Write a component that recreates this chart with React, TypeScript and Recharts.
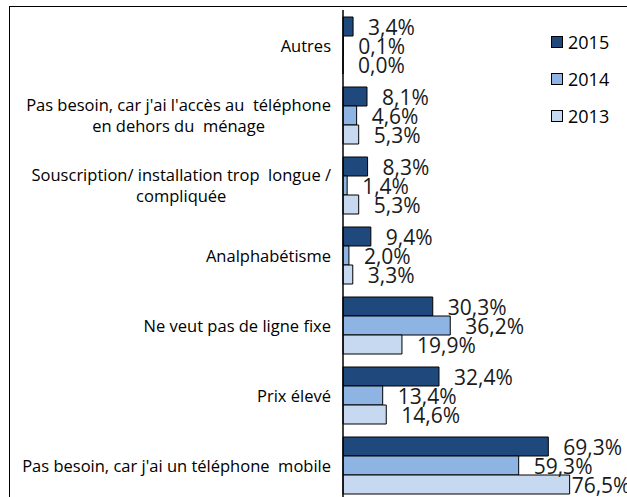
import React from 'react'
import { BarChart, Bar, XAxis, YAxis, LabelList } from 'recharts'

const categories = [
  'Autres',
  "Pas besoin, car j'ai l'accès au  téléphone\nen dehors du  ménage",
  'Souscription/ installation trop  longue /\ncompliquée',
  'Analphabétisme',
  'Ne veut pas de ligne fixe',
  'Prix élevé',
  "Pas besoin, car j'ai un téléphone  mobile",
]
const values2015 = [3.4, 8.1, 8.3, 9.4, 30.3, 32.4, 69.3]
const values2014 = [0.1, 4.6, 1.4, 2.0, 36.2, 13.4, 59.3]
const values2013 = [0.0, 5.3, 5.3, 3.3, 19.9, 14.6, 76.5]

const series = [
  { key: 'y2015', name: '2015', color: '#1F497D' },
  { key: 'y2014', name: '2014', color: '#8DB4E2' },
  { key: 'y2013', name: '2013', color: '#C6D9F1' },
]

const data = categories.map((cat, i) => ({
  cat,
  y2015: values2015[i],
  y2014: values2014[i],
  y2013: values2013[i],
}))

const FONT = '"Open Sans", sans-serif'
const TICK_SIZE = 16.5
const VALUE_SIZE = 21

let ctx: CanvasRenderingContext2D | null = null
const measure = (s: string, size: number) => {
  if (!ctx) ctx = document.createElement('canvas').getContext('2d')
  if (!ctx) return s.length * size * 0.52
  ctx.font = `${size}px ${FONT}`
  return ctx.measureText(s).width
}

// étiquettes de catégorie : lignes centrées, bloc aligné à droite
const CategoryTick = (props: any) => {
  const { x, y, payload } = props
  const lines = String(payload.value).split('\n')
  const maxW = Math.max(...lines.map(l => measure(l, TICK_SIZE)))
  const cx = x - 4 - maxW / 2
  const lineH = 21
  const startY = y - ((lines.length - 1) * lineH) / 2
  return (
    <g>
      {lines.map((l, i) => (
        <text
          key={i}
          x={cx}
          y={startY + i * lineH}
          textAnchor="middle"
          dominantBaseline="central"
          fontSize={TICK_SIZE}
          fontFamily={FONT}
          fill="#000"
          style={{ whiteSpace: 'pre' }}
        >
          {l}
        </text>
      ))}
    </g>
  )
}

const fmt = (v: any) => `${Number(v).toFixed(1).replace('.', ',')}%`

// valeur à droite de la barre, ramenée vers la gauche si elle dépasse
const RIGHT_LIMIT = 620
const ValueLabel = (props: any) => {
  const { x, y, width, height, value } = props
  const text = fmt(value)
  const w = measure(text, VALUE_SIZE)
  const end = Number(x) + Number(width)
  let tx = end + 15
  if (tx + w > RIGHT_LIMIT) tx = Math.max(end + 2, RIGHT_LIMIT - w)
  return (
    <text
      x={tx}
      y={Number(y) + Number(height) / 2}
      dominantBaseline="central"
      fontSize={VALUE_SIZE}
      fontFamily={FONT}
      fill="#1a1a1a"
    >
      {text}
    </text>
  )
}

export default function App() {
  return (
    <div
      style={{
        position: 'absolute',
        left: 9,
        top: 6,
        width: 618,
        height: 491,
        overflow: 'hidden',
        borderTop: '1px solid #000',
        borderLeft: '1px solid #000',
        background: '#fff',
      }}
    >
      <BarChart
        width={618}
        height={500}
        data={data}
        layout="vertical"
        margin={{ top: 3, right: 48, bottom: 7, left: 0 }}
        barCategoryGap="10%"
        barGap={0}
      >
        <XAxis type="number" domain={[0, 80]} hide />
        <YAxis
          type="category"
          dataKey="cat"
          width={333}
          tickLine={false}
          axisLine={{ stroke: '#000', strokeWidth: 1.5 }}
          tick={<CategoryTick />}
          interval={0}
        />
        {series.map(s => (
          <Bar
            key={s.key}
            dataKey={s.key}
            name={s.name}
            fill={s.color}
            stroke="#000"
            strokeWidth={1}
            minPointSize={(v: any) => (v === 0 ? 0.01 : 0)}
            isAnimationActive={false}
          >
            <LabelList dataKey={s.key} content={<ValueLabel />} />
          </Bar>
        ))}
      </BarChart>
      {/* légende à droite, en haut */}
      <div
        style={{
          position: 'absolute',
          top: 16,
          left: 541,
          fontFamily: FONT,
          fontSize: 18,
          color: '#000',
        }}
      >
        {series.map(s => (
          <div key={s.key} style={{ display: 'flex', alignItems: 'center', height: 37 }}>
            <span
              style={{
                display: 'inline-block',
                width: 10,
                height: 10,
                background: s.color,
                border: '1px solid #000',
                marginRight: 5,
              }}
            />
            <span>{s.name}</span>
          </div>
        ))}
      </div>
    </div>
  )
}
